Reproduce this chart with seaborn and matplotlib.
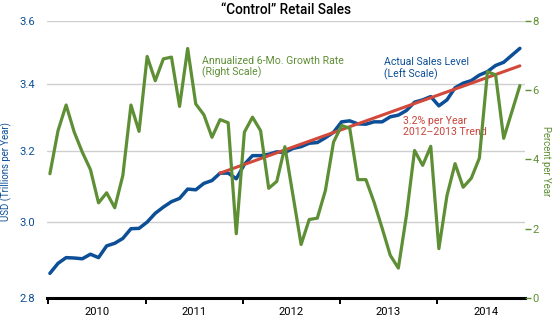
import numpy as np
import pandas as pd
import matplotlib
matplotlib.use("Agg")
import matplotlib.pyplot as plt
from matplotlib.ticker import FixedLocator, NullLocator, FuncFormatter, NullFormatter
import seaborn as sns

# Monthly observations, Jan 2010 - Nov 2014
months = pd.date_range("2010-01-01", periods=59, freq="MS")

# Control retail sales level, USD trillions per year (left, log scale)
sales_level = [2.864, 2.890, 2.905, 2.904, 2.902, 2.914, 2.905, 2.936, 2.943, 2.956,
               2.982, 2.983, 3.000, 3.024, 3.041, 3.056, 3.065, 3.091, 3.089, 3.107,
               3.115, 3.136, 3.136, 3.120, 3.161, 3.186, 3.186, 3.190, 3.197, 3.195,
               3.207, 3.212, 3.222, 3.224, 3.238, 3.254, 3.285, 3.288, 3.279, 3.278,
               3.285, 3.285, 3.300, 3.305, 3.319, 3.344, 3.351, 3.361, 3.333, 3.351,
               3.388, 3.402, 3.410, 3.427, 3.438, 3.457, 3.467, 3.489, 3.511]

# Annualized 6-month growth rate, percent per year (right scale)
growth_rate = [3.59, 4.83, 5.57, 4.79, 4.21, 3.71, 2.75, 3.04, 2.61, 3.54,
               5.57, 4.81, 6.97, 6.27, 6.90, 6.95, 5.53, 7.20, 5.60, 5.29,
               4.64, 5.15, 5.06, 1.86, 4.79, 5.22, 4.83, 3.17, 3.37, 4.37,
               2.96, 1.55, 2.27, 2.31, 3.11, 4.50, 4.98, 4.90, 3.42, 3.42,
               2.77, 2.02, 1.24, 0.87, 2.39, 4.26, 3.83, 4.38, 1.43, 2.96,
               3.88, 3.20, 3.46, 4.04, 6.53, 6.44, 4.61, 5.37, 6.13]

# 2012-2013 trend: 3.2% per year, drawn from Oct 2011 to Nov 2014
trend_rate = 0.032
trend_start = "2011-10-01"
trend_end = "2014-11-01"
trend_base = 3.136

years = ["2010", "2011", "2012", "2013", "2014"]
left_ticks = [2.8, 3.0, 3.2, 3.4, 3.6]
right_ticks = [0, 2, 4, 6, 8]

BLUE = "#0d4f97"
GREEN = "#5e8f35"
RED = "#d2483a"
RED_TXT = "#c9443a"

sns.set_theme(style="white")
plt.rcParams["font.family"] = ["Roboto", "DejaVu Sans"]

FS_TICK = 8.1
FS_NOTE = 7.6
FS_AXLAB = 6.9
FS_TITLE = 9.8

# month position on the axis (points sit just inside each month)
month_idx = (months.year - 2010) * 12 + (months.month - 1)
xpos = np.asarray(month_idx, dtype=float) + 0.2
df = pd.DataFrame({"x": xpos, "level": sales_level, "growth": growth_rate})

t0 = pd.Timestamp(trend_start)
t1 = pd.Timestamp(trend_end)
mask = (months >= t0) & (months <= t1)
trend_x = xpos[mask]
trend_y = trend_base * (1 + trend_rate) ** ((trend_x - trend_x[0]) / 12.0)
trend_df = pd.DataFrame({"x": trend_x, "trend": trend_y})

fig = plt.figure(figsize=(5.6, 3.23), dpi=100)
ax = fig.add_axes([0.0845, 0.0765, 0.853, 0.8594])

sns.lineplot(data=df, x="x", y="level", ax=ax, color=BLUE, linewidth=2.5)
sns.lineplot(data=trend_df, x="x", y="trend", ax=ax, color=RED, linewidth=2.2)

ax.set_yscale("log")
ax.set_ylim(2.8, 3.6)
ax.yaxis.set_major_locator(FixedLocator(left_ticks))
ax.yaxis.set_minor_locator(NullLocator())
ax.yaxis.set_major_formatter(FuncFormatter(lambda v, p: f"{v:.1f}"))
ax.yaxis.set_minor_formatter(NullFormatter())
ax.set_xlim(-0.12, 58.83)

ax.grid(axis="y", color="#cfcfcf", linewidth=1.0)
ax.grid(axis="x", visible=False)
for s in ["top", "right", "left"]:
    ax.spines[s].set_visible(False)
ax.spines["bottom"].set_color("black")
ax.spines["bottom"].set_linewidth(2.2)

# year boundaries as ticks, year names centred between them
ax.xaxis.set_major_locator(FixedLocator([0, 12, 24, 36, 48]))
ax.xaxis.set_major_formatter(NullFormatter())
ax.xaxis.set_minor_locator(FixedLocator([6, 18, 30, 42, 54]))
ax.xaxis.set_minor_formatter(FuncFormatter(lambda v, p: years[int(round((v - 6) / 12))]))
ax.tick_params(axis="x", which="major", direction="out", length=4, width=1.4,
               color="black", bottom=True, pad=2)
ax.tick_params(axis="x", which="minor", length=0, pad=6, labelsize=FS_TICK,
               labelcolor="black")
ax.tick_params(axis="y", which="major", length=0, pad=9, labelsize=FS_TICK,
               labelcolor=BLUE)
ax.set_xlabel("")
ax.set_ylabel("USD (Trillions per Year)", color=BLUE, fontsize=FS_AXLAB)
ax.yaxis.set_label_coords(-0.074, 0.457)

ax2 = ax.twinx()
sns.lineplot(data=df, x="x", y="growth", ax=ax2, color=GREEN, linewidth=2.3)
ax2.set_ylim(0, 8)
ax2.set_xlim(-0.12, 58.83)
ax2.yaxis.set_major_locator(FixedLocator(right_ticks))
ax2.yaxis.set_major_formatter(FuncFormatter(lambda v, p: f"{v:.0f}"))
for s in ["top", "right", "left", "bottom"]:
    ax2.spines[s].set_visible(False)
ax2.grid(False)
ax2.tick_params(axis="y", which="major", right=True, direction="out", length=4,
                width=1.0, color=GREEN, pad=1.5, labelsize=FS_TICK, labelcolor=GREEN)
ax2.set_xlabel("")
ax2.set_ylabel("Percent per Year", color=GREEN, fontsize=FS_AXLAB, rotation=270)
ax2.yaxis.set_label_coords(1.054, 0.495)

fig.text(0.511, 0.968, "\u201cControl\u201d Retail Sales", ha="center", va="center",
         fontsize=FS_TITLE, color="black", fontweight="medium")

ax.text(0.323, 0.873, "Annualized 6-Mo. Growth Rate\n(Right Scale)", transform=ax.transAxes,
        ha="left", va="top", fontsize=FS_NOTE, color=GREEN, linespacing=1.1)
ax.text(0.705, 0.868, "Actual Sales Level\n(Left Scale)", transform=ax.transAxes,
        ha="left", va="top", fontsize=FS_NOTE, color=BLUE, linespacing=1.1)
ax.text(0.744, 0.656, "3.2% per Year\n2012\u20132013 Trend", transform=ax.transAxes,
        ha="left", va="top", fontsize=FS_NOTE, color=RED_TXT, linespacing=1.1)

fig.savefig("out.png", dpi=100)
